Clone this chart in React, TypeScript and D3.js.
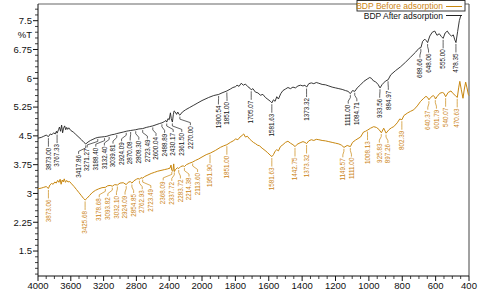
import React from "react";
import * as d3 from "d3";

const W = 480;
const H = 297;

// %T spectrum after adsorption (wavenumber cm-1, value)
const afterWave = [
  4000, 3960, 3930, 3900, 3873, 3850, 3830, 3810, 3790, 3775, 3767, 3750, 3738, 3725, 3712, 3700, 3688, 3675,
  3662, 3650, 3638, 3625, 3600, 3570, 3540, 3500, 3470, 3440, 3417, 3390, 3360, 3330, 3300, 3271, 3230, 3188,
  3160, 3132, 3100, 3070, 3039, 3000, 2960, 2924, 2900, 2870, 2840, 2808, 2770, 2723, 2680, 2640, 2600, 2560,
  2520, 2488, 2460, 2440, 2430, 2415, 2400, 2385, 2375, 2361, 2350, 2340, 2325, 2310, 2295, 2280, 2270, 2240,
  2200, 2150, 2100, 2050, 2000, 1960, 1930, 1900, 1880, 1851, 1830, 1815, 1800, 1790, 1778, 1765, 1752, 1740,
  1725, 1712, 1705, 1695, 1680, 1665, 1650, 1635, 1620, 1605, 1590, 1581, 1572, 1562, 1552, 1542, 1528, 1515,
  1500, 1485, 1470, 1455, 1440, 1425, 1410, 1395, 1383, 1373, 1360, 1345, 1330, 1315, 1300, 1280, 1260, 1240,
  1220, 1200, 1180, 1160, 1140, 1125, 1111, 1098, 1084, 1070, 1050, 1030, 1010, 995, 985, 972, 960, 945, 933,
  920, 911, 900, 885, 869, 840, 810, 780, 750, 720, 700, 688, 678, 665, 656, 648, 635, 620, 605, 592, 578, 566,
  555, 543, 530, 518, 505, 494, 485, 478, 468, 458, 450,
];
const afterT = [
  4.44, 4.46, 4.49, 4.52, 4.48, 4.55, 4.53, 4.58, 4.55, 4.62, 4.57, 4.66, 4.73, 4.62, 4.78, 4.58, 4.7, 4.76,
  4.66, 4.72, 4.67, 4.71, 4.64, 4.6, 4.54, 4.46, 4.4, 4.33, 4.29, 4.34, 4.38, 4.41, 4.44, 4.46, 4.47, 4.48,
  4.49, 4.51, 4.53, 4.54, 4.56, 4.58, 4.6, 4.62, 4.63, 4.64, 4.65, 4.66, 4.68, 4.69, 4.72, 4.74, 4.76, 4.79,
  4.82, 4.84, 4.87, 4.9, 4.86, 4.95, 4.92, 5.1, 4.95, 4.86, 5.05, 5.15, 5.12, 5.06, 5.12, 5.06, 5.04, 5.12,
  5.18, 5.24, 5.3, 5.36, 5.42, 5.5, 5.55, 5.58, 5.62, 5.67, 5.72, 5.76, 5.78, 5.82, 5.79, 5.87, 5.82, 5.85,
  5.78, 5.74, 5.7, 5.73, 5.64, 5.62, 5.56, 5.58, 5.5, 5.45, 5.4, 5.36, 5.44, 5.4, 5.52, 5.46, 5.6, 5.68,
  5.72, 5.76, 5.73, 5.77, 5.75, 5.8, 5.82, 5.8, 5.82, 5.77, 5.86, 5.88, 5.86, 5.89, 5.87, 5.84, 5.83, 5.8,
  5.77, 5.75, 5.73, 5.71, 5.68, 5.66, 5.6, 5.68, 5.66, 5.75, 5.83, 5.92, 5.98, 6.02, 6.0, 5.93, 5.91, 5.84, 5.75,
  5.84, 5.88, 5.93, 5.96, 6.09, 6.2, 6.3, 6.42, 6.55, 6.68, 6.78, 6.8, 6.96, 7.02, 6.98, 6.93, 7.1, 7.2, 7.23, 7.12, 7.16, 7.09,
  7.04, 7.18, 7.23, 7.15, 7.1, 7.13, 7.0, 6.93, 7.22, 7.5, 7.62,
];

// %T spectrum before adsorption
const beforeWave = [
  4000, 3960, 3930, 3900, 3873, 3855, 3835, 3815, 3795, 3778, 3760, 3745, 3730, 3718, 3705, 3692, 3680, 3665,
  3650, 3635, 3615, 3590, 3560, 3530, 3500, 3470, 3445, 3425, 3400, 3370, 3340, 3300, 3260, 3220, 3178, 3150,
  3120, 3093, 3065, 3032, 3000, 2960, 2924, 2900, 2875, 2854, 2830, 2800, 2780, 2762, 2745, 2723, 2700, 2660,
  2620, 2580, 2540, 2500, 2460, 2420, 2390, 2378, 2368, 2355, 2345, 2337, 2325, 2300, 2283, 2260, 2230, 2214,
  2190, 2150, 2113, 2080, 2040, 2000, 1975, 1951, 1920, 1890, 1870, 1851, 1830, 1813, 1798, 1785, 1772, 1760,
  1750, 1740, 1728, 1715, 1705, 1692, 1680, 1668, 1655, 1640, 1622, 1606, 1592, 1581, 1572, 1562, 1552, 1542,
  1530, 1515, 1500, 1485, 1470, 1455, 1442, 1430, 1412, 1395, 1383, 1373, 1360, 1345, 1330, 1315, 1300, 1280,
  1260, 1240, 1220, 1200, 1180, 1165, 1149, 1130, 1111, 1098, 1080, 1065, 1050, 1032, 1020, 1008, 990, 971,
  955, 940, 925, 911, 897, 880, 865, 851, 830, 815, 802, 790, 767, 750, 731, 710, 690, 671, 658, 648, 640, 630,
  615, 606, 601, 590, 575, 560, 550, 540, 525, 508, 495, 482, 470, 462, 455, 446, 436, 428, 420, 412, 404, 400,
];
const beforeT = [
  3.12, 3.14, 3.16, 3.18, 3.13, 3.22, 3.26, 3.24, 3.3, 3.27, 3.34, 3.29, 3.37, 3.24, 3.35, 3.3, 3.38, 3.29,
  3.34, 3.3, 3.31, 3.25, 3.18, 3.1, 3.02, 2.94, 2.87, 2.83, 2.88, 2.95, 3.02, 3.08, 3.12, 3.15, 3.16, 3.2,
  3.21, 3.19, 3.23, 3.22, 3.27, 3.28, 3.23, 3.29, 3.31, 3.27, 3.33, 3.37, 3.39, 3.37, 3.41, 3.4, 3.44, 3.48,
  3.52, 3.55, 3.58, 3.6, 3.62, 3.64, 3.66, 3.74, 3.6, 3.58, 3.77, 3.57, 3.62, 3.67, 3.65, 3.7, 3.72, 3.7,
  3.75, 3.79, 3.82, 3.86, 3.9, 3.95, 4.01, 4.05, 4.12, 4.2, 4.24, 4.27, 4.33, 4.37, 4.42, 4.4, 4.47, 4.51,
  4.55, 4.47, 4.49, 4.42, 4.38, 4.33, 4.3, 4.26, 4.24, 4.18, 4.12, 4.06, 4.0, 3.96, 4.01, 4.1, 4.14, 4.11,
  4.22, 4.27, 4.33, 4.36, 4.31, 4.27, 4.22, 4.28, 4.32, 4.35, 4.33, 4.3, 4.37, 4.4, 4.38, 4.41, 4.4, 4.38,
  4.37, 4.35, 4.33, 4.31, 4.29, 4.26, 4.2, 4.25, 4.22, 4.33, 4.39, 4.43, 4.47, 4.6, 4.62, 4.65, 4.7, 4.74,
  4.72, 4.67, 4.58, 4.7, 4.57, 4.66, 4.71, 4.74, 4.84, 4.94, 4.92, 5.03, 5.1, 5.14, 5.18, 5.28, 5.4, 5.48, 5.53, 5.5, 5.44, 5.5,
  5.55, 5.52, 5.46, 5.53, 5.61, 5.63, 5.61, 5.52, 5.63, 5.67, 5.6, 5.55, 5.5, 5.75, 5.92, 5.7, 5.48, 5.72, 5.9, 5.75, 5.58, 5.55,
];

// peak labels printed by the instrument
const afterPeaks = [
  "3873.00", "3767.33", "3417.86", "3271.27", "3188.40", "3132.40", "3039.81", "2924.09", "2870.08", "2808.30",
  "2723.49", "2600.04", "2488.89", "2430.17", "2361.50", "2270.00", "1900.54", "1851.00", "1705.07", "1581.63",
  "1373.32", "1111.00", "1084.71", "933.56", "884.97", "688.66", "648.06", "555.00", "478.35",
];
const beforePeaks = [
  "3873.06", "3425.68", "3178.68", "3093.82", "3032.10", "2924.09", "2854.85", "2762.93", "2723.49", "2368.09",
  "2337.72", "2283.72", "2214.38", "2113.60", "1951.90", "1851.00", "1581.63", "1442.75", "1373.32", "1149.57",
  "1111.00", "1008.13", "925.83", "897.26", "802.39", "640.37", "601.79", "540.07", "470.63",
];

const yTicks = [1.5, 2.25, 3, 3.75, 4.5, 5.25, 6, 6.75, 7.5];
const xTicks = [4000, 3600, 3200, 2800, 2400, 2000, 1800, 1600, 1400, 1200, 1000, 800, 600, 400];

const ORANGE = "#c8870f";
const ORANGE_TEXT = "#cc8414";
const FONT = "Liberation Sans, Arial, sans-serif";

const x = d3.scaleLinear().domain([4000, 2000, 400]).range([38, 202, 469]);
const y = d3.scaleLinear().domain([0.85, 7.935]).range([276, 4]);

function valueAt(waves: number[], vals: number[], w: number) {
  for (let i = 0; i < waves.length - 1; i++) {
    if (waves[i] >= w && waves[i + 1] <= w) {
      const t = (waves[i] - w) / (waves[i] - waves[i + 1]);
      return vals[i] + t * (vals[i + 1] - vals[i]);
    }
  }
  return vals[vals.length - 1];
}

// push crowded labels apart, keeping each group centred on its peaks
function spread(xs: number[], gap: number) {
  const groups: { idx: number[]; sum: number }[] = [];
  const start = (g: { idx: number[]; sum: number }) => g.sum / g.idx.length - ((g.idx.length - 1) * gap) / 2;
  xs.forEach((v, i) => {
    groups.push({ idx: [i], sum: v });
    while (groups.length > 1) {
      const b = groups[groups.length - 1];
      const a = groups[groups.length - 2];
      const aEnd = start(a) + (a.idx.length - 1) * gap;
      if (start(b) - aEnd < gap) {
        groups.splice(groups.length - 2, 2, { idx: a.idx.concat(b.idx), sum: a.sum + b.sum });
      } else break;
    }
  });
  const out: number[] = [];
  groups.forEach((g) => g.idx.forEach((i, k) => (out[i] = start(g) + k * gap)));
  return out;
}

function Peaks({ peaks, waves, vals, color, textColor }: any) {
  const cx = peaks.map((p: string) => x(+p));
  const lx = spread(cx, 8.6);
  return (
    <g>
      {peaks.map((p: string, i: number) => {
        const cy = y(valueAt(waves, vals, +p));
        const top = cy + 10;
        const d = `M${cx[i]},${cy + 1.5}V${cy + 4}L${lx[i]},${cy + 7.5}V${top}`;
        return (
          <g key={p + i}>
            <path d={d} fill="none" stroke={color} strokeWidth={0.7} />
            <text
              transform={`translate(${lx[i]},${top + 1}) rotate(-90)`}
              textAnchor="end"
              dy="0.35em"
              fontSize={6.3}
              fontFamily={FONT}
              fill={textColor}
            >
              {p}
            </text>
          </g>
        );
      })}
    </g>
  );
}

export default function App() {
  const line = d3
    .line<number>()
    .x((d) => x(d))
    .y((_, i) => 0);
  const path = (waves: number[], vals: number[]) =>
    d3
      .line<number>()
      .x((d) => x(d))
      .y((_, i) => y(vals[i]))(waves) as string;

  const yMinor = d3.range(0.9, 7.9, 0.15).filter((v) => !yTicks.some((t) => Math.abs(t - v) < 0.01));
  const xMinor = d3
    .range(4000, 2000, -100)
    .concat(d3.range(2000, 399, -50))
    .filter((v) => !xTicks.includes(v));

  return (
    <svg
      width={W}
      height={H}
      style={{ position: "absolute", left: 0, top: 0, background: "#fff" }}
      fontFamily={FONT}
    >
      <rect width={W} height={H} fill="#fff" />
      {/* frame */}
      <line x1={38} x2={469} y1={4} y2={4} stroke="#666" strokeWidth={1.2} />
      <line x1={469} x2={469} y1={4} y2={276} stroke="#444" strokeWidth={1} />
      <line x1={38} x2={38} y1={4} y2={276} stroke="#111" strokeWidth={1} />
      <line x1={38} x2={469} y1={276} y2={276} stroke="#111" strokeWidth={1} />

      {/* y axis */}
      {yTicks.map((t) => (
        <g key={t} transform={`translate(38,${y(t)})`}>
          <line x1={-5} x2={0} stroke="#111" />
          <text x={-6} dy="0.35em" textAnchor="end" fontSize={9.5} fill="#111">
            {t}
          </text>
        </g>
      ))}
      {yMinor.map((t) => (
        <line key={t} x1={35} x2={38} y1={y(t)} y2={y(t)} stroke="#111" strokeWidth={0.8} />
      ))}
      <text x={32} y={y(7.125)} dy="0.35em" textAnchor="end" fontSize={9.5} fill="#111">
        %T
      </text>

      {/* x axis */}
      {xTicks.map((t) => (
        <g key={t} transform={`translate(${x(t)},276)`}>
          <line y1={0} y2={5} stroke="#111" />
          <text y={13} textAnchor="middle" fontSize={9.5} fill="#111">
            {t}
          </text>
        </g>
      ))}
      {xMinor.map((t) => (
        <line key={t} x1={x(t)} x2={x(t)} y1={276} y2={279} stroke="#111" strokeWidth={0.8} />
      ))}

      {/* spectra */}
      <path d={path(beforeWave, beforeT)} fill="none" stroke={ORANGE} strokeWidth={1} />
      <path d={path(afterWave, afterT)} fill="none" stroke="#222" strokeWidth={0.9} />

      <Peaks peaks={beforePeaks} waves={beforeWave} vals={beforeT} color={ORANGE} textColor={ORANGE_TEXT} />
      <Peaks peaks={afterPeaks} waves={afterWave} vals={afterT} color="#222" textColor="#111" />

      {/* legend */}
      <rect x={357} y={0.5} width={108} height={10.5} fill="#fff" stroke="#222" strokeWidth={0.9} />
      <text x={443} y={8.5} textAnchor="end" fontSize={8.5} fill={ORANGE_TEXT}>
        BDP Before adsorption
      </text>
      <line x1={446} x2={462} y1={6.5} y2={6.5} stroke={ORANGE} />
      <text x={443} y={18.5} textAnchor="end" fontSize={8.5} fill="#111">
        BDP After adsorption
      </text>
      <line x1={446} x2={462} y1={15.5} y2={15.5} stroke="#222" />
    </svg>
  );
}
